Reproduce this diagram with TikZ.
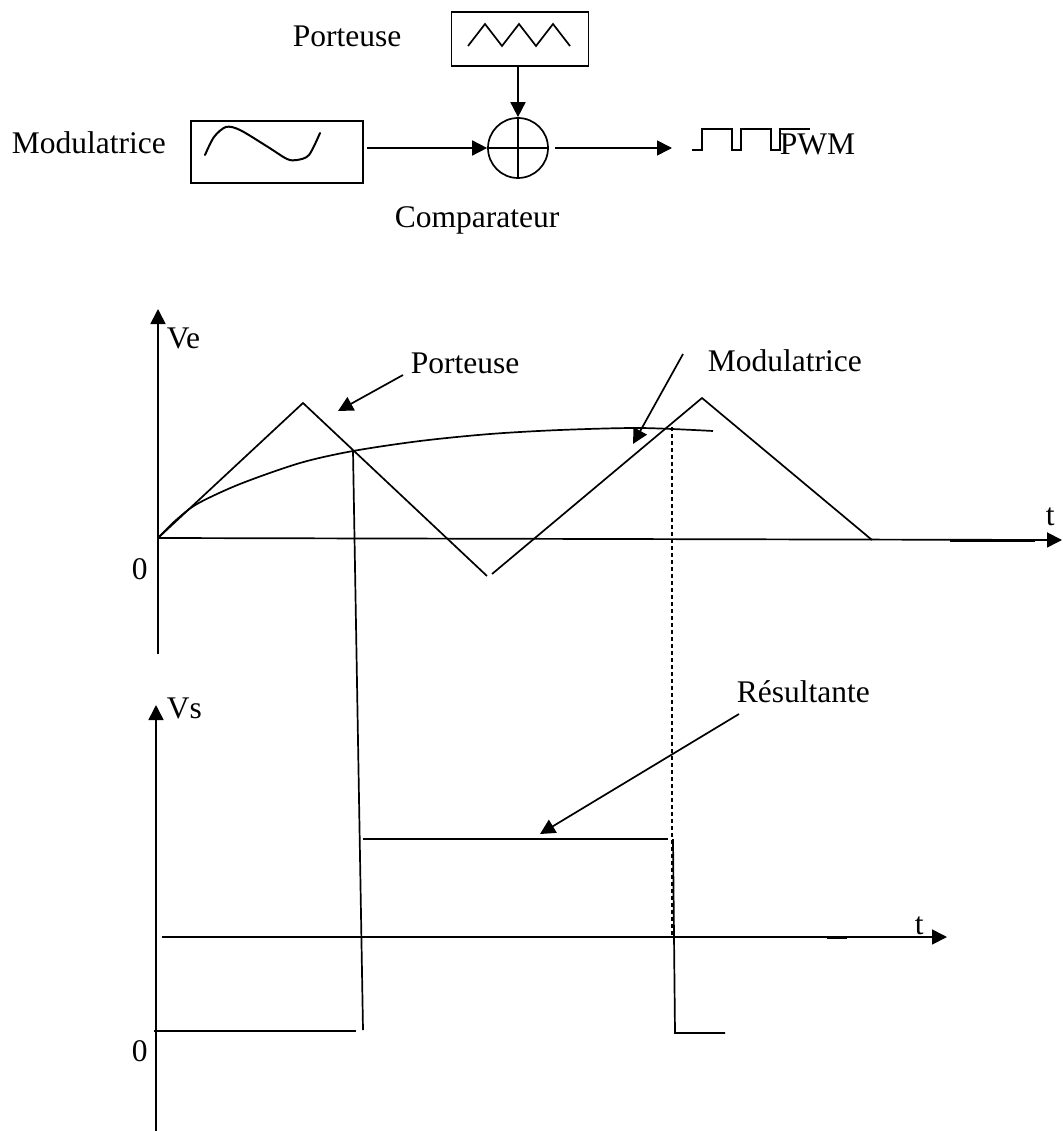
\documentclass[tikz,border=0pt]{standalone}
\usepackage{fontspec}
\setmainfont{Liberation Serif}
\usetikzlibrary{arrows.meta}
\begin{document}
\begin{tikzpicture}[x=1pt,y=-1pt,line width=1.7pt,
  tip/.style={-{Triangle[length=15pt,width=15pt]}},
  lbl/.style={inner sep=0pt,anchor=base west,font=\fontsize{31.5}{36}\selectfont},
  blk/.style={draw,inner sep=0pt}]
\useasboundingbox[fill=white] (0,0) rectangle (1062,1131);

% ---------- block diagram ----------
\node[lbl] (tporteuse) at (292,47) {Porteuse};
\node[blk,minimum width=137pt,minimum height=54pt] (pbox) at (520,39) {};
\draw (468,46) -- (485,24) -- (502,46) -- (519,24) -- (536,46) -- (553,24) -- (570,46);
\node[lbl] (tmodul) at (11,154) {Modulatrice};
\node[blk,minimum width=172pt,minimum height=62pt] (modbox) at (277,152) {};
\draw[line width=2pt,line cap=round] plot[smooth] coordinates
  {(205,155) (214,137) (226,127) (240,130) (268,147) (287,159) (297,160) (309,155) (320,133)};
\node[draw,circle,minimum size=60pt,inner sep=0pt] (comp) at (518,148) {};
\draw (comp.north) -- (comp.south);
\draw (comp.west) -- (comp.east);
\node[lbl] (tcomp) at (394,228) {Comparateur};
\draw[tip] (pbox.south -| comp.north) -- (comp.north);
\draw[tip] ([xshift=3pt]modbox.east |- comp.west) -- (comp.west);
\coordinate (pwmin) at (672,148);
\draw[tip] ([xshift=6pt]comp.east) -- (pwmin);
\draw (692,150) -- (702,150) -- (702,129) -- (732,129) -- (732,150) -- (741,150) -- (741,129)
  -- (771,129) -- (771,150) -- (780,150) -- (780,129) -- (810,129);
\node[lbl] (tpwm) at (779,155) {PWM};

% ---------- graph Ve ----------
\coordinate (o1) at (158,538);
\draw[tip] (158,654) -- (158,309);
\draw[tip] (o1) -- (1062,540);
\draw (950,541) -- (1035,541);
\node[lbl] (tve) at (166,348) {Ve};
\node[lbl] (tzero1) at (131,579) {0};
\node[lbl] (tt1) at (1045,525) {t};
% carrier
\draw (o1) -- (303,403) -- (487,576);
\draw (492,574) -- (702,398) -- (872,540);
% modulating
\draw plot[smooth] coordinates {(158,538) (175,521) (197,504) (240,484) (300,463) (353,451)
  (420,441) (490,434) (560,430) (640,428) (713,431)};
% labels with arrows
\node[lbl] (tpor2) at (410,373) {Porteuse};
\coordinate (pa) at (403,375);
\coordinate (pb) at (338,411);
\draw[tip] (pa) -- (pb);
\node[lbl] (tmod2) at (707,371) {Modulatrice};
\coordinate (ma) at (683,354);
\coordinate (mb) at (633,444);
\draw[tip] (ma) -- (mb);
% transitions
\draw (353,451) -- (363,1030);
\draw[line width=1.3pt,dash pattern=on 4pt off 3pt] (672,427) -- (672,937);

% ---------- graph Vs ----------
\draw[tip] (156,1131) -- (156,705);
\draw[tip] (162,937) -- (947,937);
\draw (827,938) -- (847,938);
\node[lbl] (tvs) at (166,718) {Vs};
\node[lbl] (tzero2) at (131,1061) {0};
\node[lbl] (tt2) at (914,934) {t};
\draw (154,1031) -- (356,1031);
\draw (363,839) -- (668,839);
\draw (673,839) -- (675,1033) -- (725,1033);
\node[lbl] (tres) at (736,702) {Résultante};
\coordinate (ra) at (739,714);
\coordinate (rb) at (540,834);
\draw[tip] (ra) -- (rb);
\end{tikzpicture}
\end{document}
